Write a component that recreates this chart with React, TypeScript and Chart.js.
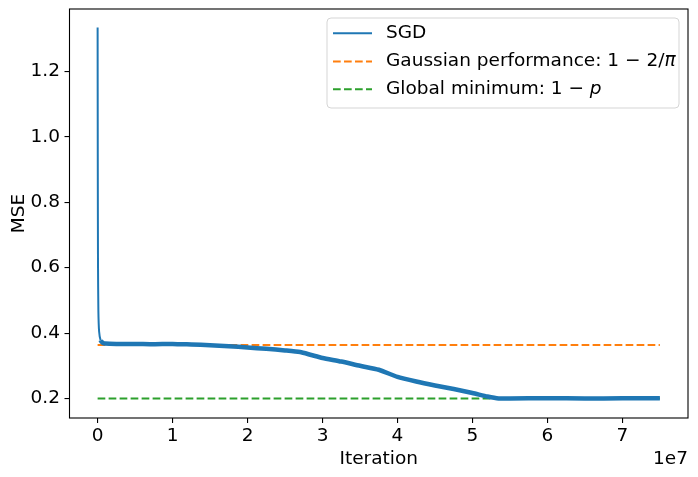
import { useEffect, useRef } from 'react';
import { Chart, registerables, Plugin } from 'chart.js';

Chart.register(...registerables);

// SGD training curve (iterations, MSE)
const iterations = [
  0, 2e4, 5e4, 1e5, 2e5, 4e5, 7e5, 1e6, 2.5e6, 5e6, 7.5e6, 1e7, 1.25e7, 1.5e7,
  1.75e7, 2e7, 2.25e7, 2.5e7, 2.7e7, 2.85e7, 3e7, 3.25e7, 3.5e7, 3.75e7, 4e7,
  4.25e7, 4.5e7, 4.75e7, 5e7, 5.2e7, 5.35e7, 5.5e7, 6e7, 6.5e7, 7e7, 7.5e7,
];
const sgdMse = [
  1.334, 0.95, 0.62, 0.47, 0.405, 0.378, 0.37, 0.368, 0.367, 0.367, 0.366,
  0.367, 0.365, 0.363, 0.36, 0.356, 0.352, 0.347, 0.342, 0.333, 0.324, 0.313,
  0.3, 0.288, 0.266, 0.252, 0.24, 0.229, 0.217, 0.206, 0.2, 0.2, 0.201, 0.2,
  0.201, 0.201,
];
const refX = [0, 7.5e7];
const gaussianPerf = 1 - 2 / Math.PI;
const globalMin = 0.2;

const xTicks = [0, 1e7, 2e7, 3e7, 4e7, 5e7, 6e7, 7e7];
const yTicks = [0.2, 0.4, 0.6, 0.8, 1.0, 1.2];

const BLUE = '#1f77b4';
const ORANGE = '#ff7f0e';
const GREEN = '#2ca02c';
const FONT = '"DejaVu Sans", sans-serif';
const FS = 18.5;

const framePlugin: Plugin = {
  id: 'frame',
  afterDatasetsDraw(chart) {
    const { ctx, chartArea: a } = chart;
    ctx.save();
    ctx.strokeStyle = '#000';
    ctx.lineWidth = 1.1;
    ctx.strokeRect(a.left, a.top, a.right - a.left, a.bottom - a.top);
    ctx.restore();
  },
  afterDraw(chart) {
    const { ctx, chartArea: a } = chart;
    ctx.save();
    ctx.fillStyle = '#000';
    ctx.font = `${FS}px ${FONT}`;
    ctx.textBaseline = 'alphabetic';
    // axis titles
    ctx.textAlign = 'center';
    ctx.fillText('Iteration', (a.left + a.right) / 2, 464);
    ctx.textAlign = 'right';
    ctx.fillText('1e7', a.right, 464);
    ctx.save();
    ctx.translate(24, (a.top + a.bottom) / 2);
    ctx.rotate(-Math.PI / 2);
    ctx.textAlign = 'center';
    ctx.fillText('MSE', 0, 0);
    ctx.restore();

    // legend
    const bx = 327, by = 18, bw = 352, bh = 90, r = 4;
    ctx.beginPath();
    ctx.roundRect(bx, by, bw, bh, r);
    ctx.fillStyle = 'rgba(255,255,255,0.8)';
    ctx.fill();
    ctx.strokeStyle = '#d5d5d5';
    ctx.lineWidth = 1;
    ctx.stroke();

    const rows: { color: string; dash: number[]; parts: [string, boolean][] }[] = [
      { color: BLUE, dash: [], parts: [['SGD', false]] },
      { color: ORANGE, dash: [7.7, 3.3], parts: [['Gaussian performance: 1 \u2212 2/', false], ['\u03c0', true]] },
      { color: GREEN, dash: [7.7, 3.3], parts: [['Global minimum: 1 \u2212 ', false], ['p', true]] },
    ];
    const rowY = [33.3, 61.5, 89.3];
    rows.forEach((row, i) => {
      const y = rowY[i];
      ctx.beginPath();
      ctx.setLineDash(row.dash);
      ctx.strokeStyle = row.color;
      ctx.lineWidth = 2.1;
      ctx.moveTo(333, y);
      ctx.lineTo(372, y);
      ctx.stroke();
      ctx.setLineDash([]);
      let x = 386;
      ctx.fillStyle = '#000';
      ctx.textAlign = 'left';
      ctx.textBaseline = 'middle';
      row.parts.forEach(([t, it]) => {
        ctx.font = `${it ? 'italic ' : ''}${FS}px ${FONT}`;
        ctx.fillText(t, x, y);
        x += ctx.measureText(t).width;
      });
    });
    ctx.restore();
  },
};

const zeroPad = (s: any) => {
  s.paddingTop = 0;
  s.paddingBottom = 0;
  s.paddingLeft = 0;
  s.paddingRight = 0;
};

export default function App() {
  const canvasRef = useRef<HTMLCanvasElement>(null);
  const chartRef = useRef<Chart | null>(null);

  useEffect(() => {
    if (!canvasRef.current) return;
    document.body.style.margin = '0';
    if (chartRef.current) chartRef.current.destroy();

    const sgd = iterations.map((x, i) => ({ x, y: sgdMse[i] }));
    const gauss = refX.map((x) => ({ x, y: gaussianPerf }));
    const gmin = refX.map((x) => ({ x, y: globalMin }));

    chartRef.current = new Chart(canvasRef.current, {
      type: 'line',
      data: {
        datasets: [
          {
            label: 'SGD',
            data: sgd,
            borderColor: BLUE,
            borderWidth: 4.5,
            pointRadius: 0,
            tension: 0.2,
            segment: {
              borderWidth: (c: any) => (c.p0.parsed.x < 4e5 ? 2 : 4.5),
            },
          },
          {
            label: 'Gaussian',
            data: gauss,
            borderColor: ORANGE,
            borderWidth: 2.1,
            borderDash: [7.7, 3.3],
            pointRadius: 0,
          },
          {
            label: 'Global',
            data: gmin,
            borderColor: GREEN,
            borderWidth: 2.1,
            borderDash: [7.7, 3.3],
            pointRadius: 0,
          },
        ],
      },
      options: {
        animation: false,
        responsive: false,
        devicePixelRatio: 1,
        layout: { padding: { top: 9, right: 10, left: 0, bottom: 0 } },
        plugins: { legend: { display: false }, tooltip: { enabled: false } },
        scales: {
          x: {
            type: 'linear',
            min: -0.375e7,
            max: 7.875e7,
            afterBuildTicks: (s) => {
              s.ticks = xTicks.map((value) => ({ value }));
            },
            afterFit: (s) => {
              s.height = 59;
              zeroPad(s);
            },
            grid: { drawOnChartArea: false, drawTicks: true, tickLength: 5, color: '#000', lineWidth: 1.1 },
            border: { display: false },
            ticks: {
              color: '#000',
              font: { family: FONT, size: FS },
              padding: 2,
              maxRotation: 0,
              callback: (v) => String(Number(v) / 1e7),
            },
          },
          y: {
            type: 'linear',
            min: 0.1405,
            max: 1.3905,
            afterBuildTicks: (s) => {
              s.ticks = yTicks.map((value) => ({ value }));
            },
            afterFit: (s) => {
              s.width = 69.5;
              zeroPad(s);
            },
            grid: { drawOnChartArea: false, drawTicks: true, tickLength: 5, color: '#000', lineWidth: 1.1 },
            border: { display: false },
            ticks: {
              color: '#000',
              font: { family: FONT, size: FS },
              padding: 4.5,
              callback: (v) => Number(v).toFixed(1),
            },
          },
        },
      },
      plugins: [framePlugin],
    });

    return () => {
      if (chartRef.current) {
        chartRef.current.destroy();
        chartRef.current = null;
      }
    };
  }, []);

  return (
    <div style={{ width: 698, height: 477, background: '#fff' }}>
      <canvas ref={canvasRef} width={698} height={477} />
    </div>
  );
}
